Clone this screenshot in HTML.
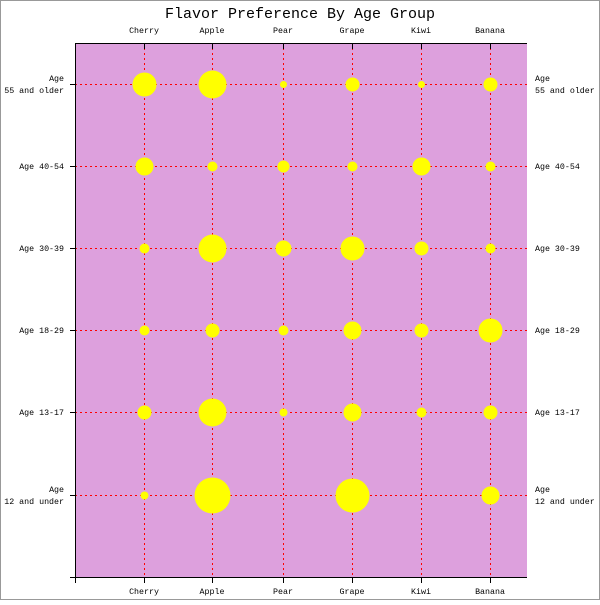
<!DOCTYPE html>
<html><head><style>body{margin:0;background:#fff}</style></head><body>
<svg width="600" height="600" xmlns="http://www.w3.org/2000/svg" font-family="Liberation Mono, DejaVu Sans Mono, monospace">
<rect x="0.5" y="0.5" width="599" height="599" fill="#fff" stroke="#999"/>
<text x="300" y="18" text-anchor="middle" font-size="15" fill="#000">Flavor Preference By Age Group</text>
<rect x="75" y="43" width="452" height="534" fill="#dda0dd"/>
<g stroke="#f00" stroke-dasharray="2,3" stroke-width="1">
<line x1="144.5" y1="43" x2="144.5" y2="577"/><line x1="212.5" y1="43" x2="212.5" y2="577"/><line x1="283.5" y1="43" x2="283.5" y2="577"/><line x1="352.5" y1="43" x2="352.5" y2="577"/><line x1="421.5" y1="43" x2="421.5" y2="577"/><line x1="490.5" y1="43" x2="490.5" y2="577"/>
<line x1="75" y1="84.5" x2="527" y2="84.5"/><line x1="75" y1="166.5" x2="527" y2="166.5"/><line x1="75" y1="248.5" x2="527" y2="248.5"/><line x1="75" y1="330.5" x2="527" y2="330.5"/><line x1="75" y1="412.5" x2="527" y2="412.5"/><line x1="75" y1="495.5" x2="527" y2="495.5"/>
</g>
<g stroke="#000" stroke-width="1">
<line x1="75.5" y1="43" x2="75.5" y2="583"/><line x1="75" y1="43.5" x2="527" y2="43.5"/><line x1="70" y1="577.5" x2="527" y2="577.5"/>
<line x1="144.5" y1="43" x2="144.5" y2="49"/><line x1="212.5" y1="43" x2="212.5" y2="49"/><line x1="283.5" y1="43" x2="283.5" y2="49"/><line x1="352.5" y1="43" x2="352.5" y2="49"/><line x1="421.5" y1="43" x2="421.5" y2="49"/><line x1="490.5" y1="43" x2="490.5" y2="49"/>
<line x1="144.5" y1="577" x2="144.5" y2="583"/><line x1="212.5" y1="577" x2="212.5" y2="583"/><line x1="283.5" y1="577" x2="283.5" y2="583"/><line x1="352.5" y1="577" x2="352.5" y2="583"/><line x1="421.5" y1="577" x2="421.5" y2="583"/><line x1="490.5" y1="577" x2="490.5" y2="583"/>
<line x1="70" y1="84.5" x2="75" y2="84.5"/><line x1="70" y1="166.5" x2="75" y2="166.5"/><line x1="70" y1="248.5" x2="75" y2="248.5"/><line x1="70" y1="330.5" x2="75" y2="330.5"/><line x1="70" y1="412.5" x2="75" y2="412.5"/><line x1="70" y1="495.5" x2="75" y2="495.5"/>
</g>
<g fill="#ff0">
<circle cx="144.5" cy="84.5" r="12"/><circle cx="212.5" cy="84.5" r="14"/><circle cx="283.5" cy="84.5" r="3.5"/><circle cx="352.5" cy="84.5" r="7"/><circle cx="421.5" cy="84.5" r="3.5"/><circle cx="490.5" cy="84.5" r="7"/>
<circle cx="144.5" cy="166.5" r="9"/><circle cx="212.5" cy="166.5" r="5"/><circle cx="283.5" cy="166.5" r="6"/><circle cx="352.5" cy="166.5" r="5"/><circle cx="421.5" cy="166.5" r="9"/><circle cx="490.5" cy="166.5" r="5"/>
<circle cx="144.5" cy="248.5" r="5"/><circle cx="212.5" cy="248.5" r="14"/><circle cx="283.5" cy="248.5" r="8"/><circle cx="352.5" cy="248.5" r="12"/><circle cx="421.5" cy="248.5" r="7"/><circle cx="490.5" cy="248.5" r="5"/>
<circle cx="144.5" cy="330.5" r="5"/><circle cx="212.5" cy="330.5" r="7"/><circle cx="283.5" cy="330.5" r="5"/><circle cx="352.5" cy="330.5" r="9"/><circle cx="421.5" cy="330.5" r="7"/><circle cx="490.5" cy="330.5" r="12"/>
<circle cx="144.5" cy="412.5" r="7"/><circle cx="212.5" cy="412.5" r="14"/><circle cx="283.5" cy="412.5" r="4"/><circle cx="352.5" cy="412.5" r="9"/><circle cx="421.5" cy="412.5" r="5"/><circle cx="490.5" cy="412.5" r="7"/>
<circle cx="144.5" cy="495.5" r="4"/><circle cx="212.5" cy="495.5" r="18"/><circle cx="352.5" cy="495.5" r="17"/><circle cx="490.5" cy="495.5" r="9"/>
</g>
<g font-size="8.3" fill="#000" text-anchor="middle">
<text x="144" y="33">Cherry</text><text x="212" y="33">Apple</text><text x="283" y="33">Pear</text><text x="352" y="33">Grape</text><text x="421" y="33">Kiwi</text><text x="490" y="33">Banana</text>
<text x="144" y="594">Cherry</text><text x="212" y="594">Apple</text><text x="283" y="594">Pear</text><text x="352" y="594">Grape</text><text x="421" y="594">Kiwi</text><text x="490" y="594">Banana</text>
</g>
<g font-size="8.3" fill="#000" text-anchor="end">
<text x="64" y="81">Age</text><text x="64" y="93">55 and older</text>
<text x="64" y="169">Age 40-54</text><text x="64" y="251">Age 30-39</text><text x="64" y="333">Age 18-29</text><text x="64" y="415">Age 13-17</text>
<text x="64" y="492">Age</text><text x="64" y="504">12 and under</text>
</g>
<g font-size="8.3" fill="#000" text-anchor="start">
<text x="535" y="81">Age</text><text x="535" y="93">55 and older</text>
<text x="535" y="169">Age 40-54</text><text x="535" y="251">Age 30-39</text><text x="535" y="333">Age 18-29</text><text x="535" y="415">Age 13-17</text>
<text x="535" y="492">Age</text><text x="535" y="504">12 and under</text>
</g>
</svg>
</body></html>
